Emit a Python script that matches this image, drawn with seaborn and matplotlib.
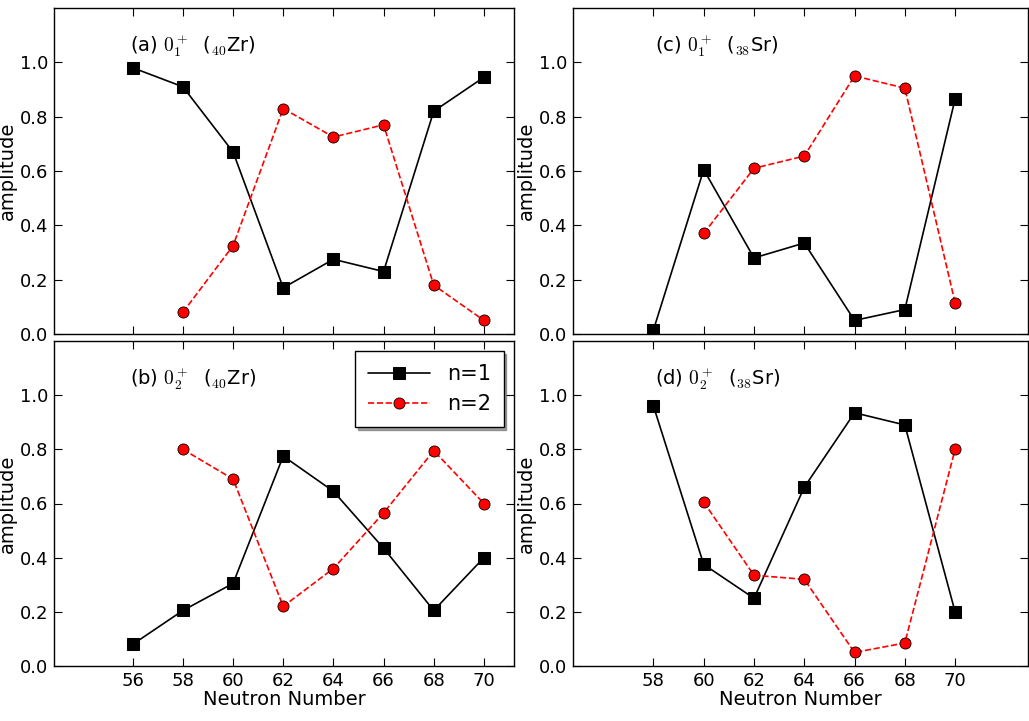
import numpy as np
import pandas as pd
import matplotlib
matplotlib.use("Agg")
import matplotlib.pyplot as plt
import seaborn as sns

sns.set_style("ticks")
plt.rcParams['font.family'] = ['DejaVu Sans']
plt.rcParams['mathtext.fontset'] = 'cm'
plt.rcParams['text.color'] = 'black'
plt.rcParams['axes.labelcolor'] = 'black'
plt.rcParams['xtick.color'] = 'black'
plt.rcParams['ytick.color'] = 'black'

# panel data: neutron numbers and amplitudes
zr_n = [56, 58, 60, 62, 64, 66, 68, 70]
sr_n = [58, 60, 62, 64, 66, 68, 70]

a_n1 = [0.98, 0.91, 0.67, 0.17, 0.275, 0.23, 0.82, 0.945]
a_n2 = [np.nan, 0.08, 0.325, 0.83, 0.725, 0.77, 0.18, 0.05]
b_n1 = [0.08, 0.205, 0.305, 0.775, 0.645, 0.435, 0.205, 0.40]
b_n2 = [np.nan, 0.80, 0.69, 0.22, 0.36, 0.565, 0.795, 0.60]
c_n1 = [0.015, 0.605, 0.28, 0.335, 0.05, 0.09, 0.865]
c_n2 = [np.nan, 0.37, 0.61, 0.655, 0.95, 0.905, 0.115]
d_n1 = [0.96, 0.375, 0.25, 0.66, 0.935, 0.89, 0.20]
d_n2 = [np.nan, 0.605, 0.335, 0.32, 0.05, 0.085, 0.80]

titles = [r"(a) $0_1^+$  ($_{40}$Zr)", r"(c) $0_1^+$  ($_{38}$Sr)",
          r"(b) $0_2^+$  ($_{40}$Zr)", r"(d) $0_2^+$  ($_{38}$Sr)"]

W, H = 1029, 721
fig = plt.figure(figsize=(W / 100, H / 100), dpi=100)

def px(x0, y0, x1, y1):
    return [x0 / W, (H - y1) / H, (x1 - x0) / W, (y1 - y0) / H]

boxes = [px(54, 8, 514, 334), px(573, 8, 1028, 334),
         px(54, 341, 514, 666), px(573, 341, 1028, 666)]
panels = [(zr_n, a_n1, a_n2), (sr_n, c_n1, c_n2),
          (zr_n, b_n1, b_n2), (sr_n, d_n1, d_n2)]

for k, (box, (xs, y1, y2)) in enumerate(zip(boxes, panels)):
    ax = fig.add_axes(box)
    df = pd.DataFrame({"N": xs, "n1": y1, "n2": y2})
    sns.lineplot(data=df, x="N", y="n1", ax=ax, color="black", marker="s",
                 markersize=8, markeredgecolor="black", lw=1.2, label="n=1")
    d2 = df.dropna()
    sns.lineplot(data=d2, x="N", y="n2", ax=ax, color="red", marker="o",
                 markersize=8, markeredgecolor="black", markeredgewidth=0.6,
                 lw=1.2, dashes=(5, 3), linestyle="--", label="n=2")
    ax.set_ylim(0, 1.2)
    ax.set_yticks([0, 0.2, 0.4, 0.6, 0.8, 1.0])
    ax.set_yticklabels(["0.0", "0.2", "0.4", "0.6", "0.8", "1.0"])
    if k % 2 == 0:
        ax.set_xlim(52.86, 71.2)
    else:
        ax.set_xlim(54.8, 72.9)
    ax.set_xticks(xs)
    ax.tick_params(labelsize=13, direction="in", length=6, pad=4)
    ax.tick_params(top=True, right=True)
    ax.set_ylabel("amplitude", fontsize=14, labelpad=2)
    if k < 2:
        ax.set_xticklabels([])
        ax.set_xlabel("")
    else:
        ax.set_xlabel("Neutron Number", fontsize=14, labelpad=0)
    ax.text(0.165 if k % 2 == 0 else 0.18, 0.925, titles[k], transform=ax.transAxes,
            fontsize=14, va="top")
    if k == 2:
        ax.legend(loc="upper right", fontsize=15, shadow=True, fancybox=False,
                  framealpha=1, edgecolor="black", handlelength=3,
                  borderpad=0.6, bbox_to_anchor=(1.0, 1.0))
    else:
        ax.get_legend().remove()
    for s in ax.spines.values():
        s.set_linewidth(1.0)
        s.set_color("black")

fig.savefig("out.png", dpi=100)
